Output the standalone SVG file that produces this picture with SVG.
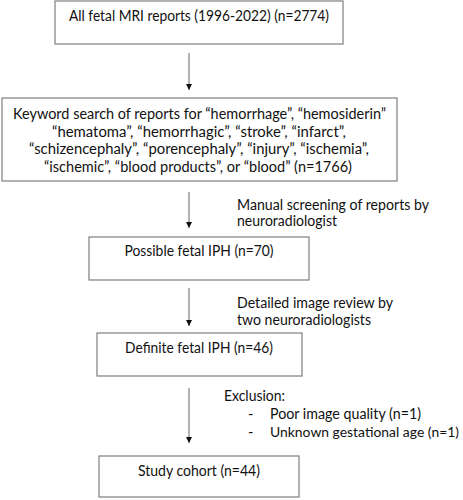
<svg xmlns="http://www.w3.org/2000/svg" width="463" height="500" viewBox="0 0 463 500">
<defs>
<style>
.box{fill:#fff;stroke:#7f7f7f;stroke-width:1.2}
.t{font-family:Lato,"Open Sans","Liberation Sans",sans-serif;font-size:14.5px;fill:#111}
.c{text-anchor:middle}
.ln{stroke:#808080;stroke-width:1.2;fill:none}
</style>
<marker id="ah" viewBox="0 0 10 10" refX="10" refY="5" markerWidth="6" markerHeight="6" markerUnits="userSpaceOnUse" orient="auto">
<path d="M0,0 L10,5 L0,10 Z" fill="#111"/>
</marker>
</defs>
<rect width="463" height="500" fill="#fff"/>
<g id="connectors">
<line class="ln" x1="189" y1="53" x2="189" y2="90" marker-end="url(#ah)"/>
<line class="ln" x1="189" y1="192" x2="189" y2="228" marker-end="url(#ah)"/>
<line class="ln" x1="189" y1="288" x2="189" y2="326" marker-end="url(#ah)"/>
<line class="ln" x1="189" y1="388" x2="189" y2="443" marker-end="url(#ah)"/>
<text class="t" x="237" y="210" textLength="192" lengthAdjust="spacingAndGlyphs">Manual screening of reports by</text>
<text class="t" x="237" y="226" textLength="100" lengthAdjust="spacingAndGlyphs">neuroradiologist</text>
<text class="t" x="237" y="308" textLength="156" lengthAdjust="spacingAndGlyphs">Detailed image review by</text>
<text class="t" x="237" y="325" textLength="134" lengthAdjust="spacingAndGlyphs">two neuroradiologists</text>
<text class="t" x="224" y="401" textLength="61" lengthAdjust="spacingAndGlyphs">Exclusion:</text>
<text class="t" x="248" y="419">-</text>
<text class="t" x="270" y="419" textLength="151" lengthAdjust="spacingAndGlyphs">Poor image quality (n=1)</text>
<text class="t" x="248" y="437">-</text>
<text class="t" x="270" y="437" style="font-size:13.6px" textLength="189" lengthAdjust="spacingAndGlyphs">Unknown gestational age (n=1)</text>
</g>
<g id="n1">
<rect class="box" x="55" y="1" width="288" height="43"/>
<text class="t c" x="199" y="21" textLength="260" lengthAdjust="spacingAndGlyphs">All fetal MRI reports (1996-2022) (n=2774)</text>
</g>
<g id="n2">
<rect class="box" x="2" y="98" width="395" height="83"/>
<text class="t c" x="199.5" y="119" textLength="373" lengthAdjust="spacingAndGlyphs">Keyword search of reports for “hemorrhage”, “hemosiderin”</text>
<text class="t c" x="199" y="136.5" textLength="294" lengthAdjust="spacingAndGlyphs">“hematoma”, “hemorrhagic”, “stroke”, “infarct”,</text>
<text class="t c" x="199" y="154" textLength="340" lengthAdjust="spacingAndGlyphs">“schizencephaly”, “porencephaly”, “injury”, “ischemia”,</text>
<text class="t c" x="198" y="171.5" textLength="308" lengthAdjust="spacingAndGlyphs">“ischemic”, “blood products”, or “blood” (n=1766)</text>
</g>
<g id="n3">
<rect class="box" x="89" y="237" width="220" height="43"/>
<text class="t c" x="199" y="256" textLength="149" lengthAdjust="spacingAndGlyphs">Possible fetal IPH (n=70)</text>
</g>
<g id="n4">
<rect class="box" x="97" y="333" width="205" height="43"/>
<text class="t c" x="199" y="353" textLength="148" lengthAdjust="spacingAndGlyphs">Definite fetal IPH (n=46)</text>
</g>
<g id="n5">
<rect class="box" x="99" y="456" width="200" height="41"/>
<text class="t c" x="199" y="476" textLength="122" lengthAdjust="spacingAndGlyphs">Study cohort (n=44)</text>
</g>
</svg>
